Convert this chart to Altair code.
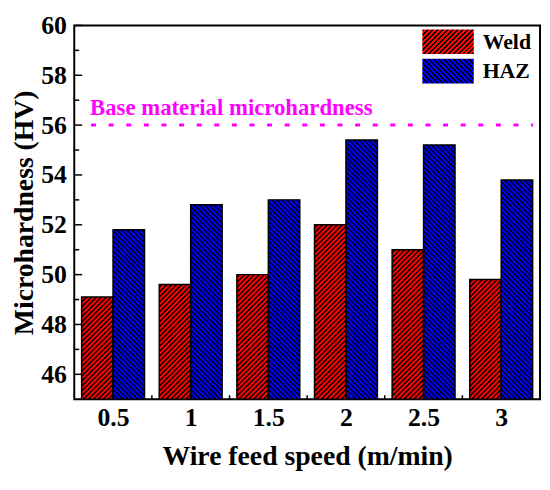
import math
import altair as alt
import pandas as pd

# ---- data ----
speeds = ["0.5", "1", "1.5", "2", "2.5", "3"]
weld = [49.1, 49.6, 50.0, 52.0, 51.0, 49.8]
haz = [51.8, 52.8, 53.0, 55.4, 55.2, 53.8]
series = ["Weld", "HAZ"]
colors = ["#FF0000", "#0000FF"]
y_major = [46, 48, 50, 52, 54, 56, 58, 60]
y_minor = [47, 49, 51, 53, 55, 57, 59]
base_value = [56]
base_label = "Base material microhardness"
x_title = "Wire feed speed (m/min)"
y_title = "Microhardness (HV)"

# ---- layout / style ----
W, H = 471, 378
Y0, Y1 = 45, 60
X0, X1 = -0.5, len(speeds) - 0.5
FONT = "Liberation Serif"
HALF = 0.405                # width of one bar, in category steps
VPER = 5.0                  # vertical hatch period, px
HATCH_W = 1.4
CLEAR = "rgba(0,0,0,0)"

px_x = W / (X1 - X0)        # px per x unit
px_y = H / (Y1 - Y0)        # px per y unit

rows = []
for si, (s, vals) in enumerate(zip(series, [weld, haz])):
    for i, (c, v) in enumerate(zip(speeds, vals)):
        left = i - HALF + si * HALF
        rows.append({"speed": c, "series": s, "value": v, "xa": left, "xb": left + HALF})
df = pd.DataFrame(rows)

yscale = alt.Scale(domain=[Y0, Y1], nice=False, zero=False)
xscale = alt.Scale(domain=[X0, X1], nice=False, zero=False)
label_expr = "[" + ",".join("'%s'" % s for s in speeds) + "][datum.value]"

x_axis = alt.Axis(values=list(range(len(speeds))), labelExpr=label_expr, labelAngle=0,
                  labelFont=FONT, labelFontSize=26, labelFontWeight="bold",
                  labelColor="black", labelPadding=6, ticks=False, domain=False,
                  titleFont=FONT, titleFontSize=28, titleFontWeight="bold",
                  titleColor="black", titlePadding=12, grid=False)
y_axis = alt.Axis(values=y_major, format="d", labelFont=FONT, labelFontSize=26,
                  labelFontWeight="bold", labelColor="black", labelPadding=8,
                  ticks=False, domain=False, titleFont=FONT, titleFontSize=28,
                  titleFontWeight="bold", titleColor="black", titlePadding=2, grid=False)


def X(field="xa"):
    return alt.X(f"{field}:Q", scale=xscale, axis=x_axis, title=x_title)


def Y(field="value"):
    return alt.Y(f"{field}:Q", scale=yscale, axis=y_axis, title=y_title)


base = alt.Chart(df).mark_rect().encode(
    x=X(), x2="xb", y=Y(), y2=alt.Y2(datum=Y0),
    fill=alt.Fill("series:N", scale=alt.Scale(domain=series, range=colors), legend=None),
)

# ---- hatch lines (45 degrees on screen), clipped to each bar ----
hl = []
for _, r in df.iterrows():
    w = (r["xb"] - r["xa"]) * px_x
    h = (r["value"] - Y0) * px_y
    forward = r["series"] == series[0]
    k = 1
    while True:
        if forward:               # y = x + c  (c from -w to h)
            c = -w + k * VPER
            if c >= h:
                break
            xa, xb = max(0.0, -c), min(w, h - c)
            ya, yb = xa + c, xb + c
        else:                     # y = -x + c (c from 0 to w + h)
            c = k * VPER
            if c >= w + h:
                break
            xa, xb = max(0.0, c - h), min(w, c)
            ya, yb = c - xa, c - xb
        hl.append({"x1": r["xa"] + xa / px_x, "x2": r["xa"] + xb / px_x,
                   "y1": Y0 + ya / px_y, "y2": Y0 + yb / px_y})
        k += 1
hl = pd.DataFrame(hl)
hatch_lines = alt.Chart(hl).mark_rule(color="black", strokeWidth=HATCH_W).encode(
    x=X("x1"), x2="x2", y=Y("y1"), y2="y2")

outline = alt.Chart(df).mark_rect(fill=CLEAR, stroke="black", strokeWidth=1.5).encode(
    x=X(), x2="xb", y=Y(), y2=alt.Y2(datum=Y0))

# ---- legends (one per series, hatched swatches) ----
SW_W, SW_H = 52, 25
PERIOD = VPER / math.sqrt(2)


def hatch(w, h, forward, dark, light):
    L = (w + h) / math.sqrt(2)
    per = PERIOD / L
    stops = []
    t = 0.0
    while t < 1:
        a = round(t, 6)
        b = round(min(t + 0.4 * per, 1), 6)
        cc = round(min(t + per, 1), 6)
        stops += [{"offset": a, "color": dark}, {"offset": b, "color": dark},
                  {"offset": b, "color": light}, {"offset": cc, "color": light}]
        t += per
    kk = (w + h) / (w * w + h * h)
    ax, by = w * kk, h * kk
    if forward:
        return {"gradient": "linear", "x1": 0, "y1": 0, "x2": ax, "y2": by, "stops": stops}
    return {"gradient": "linear", "x1": 0, "y1": 1, "x2": ax, "y2": 1 - by, "stops": stops}


swatch_path = "M-1,-%.3fH1V%.3fH-1Z" % (SW_H / SW_W, SW_H / SW_W)
legend_layers = []
for i, (s, col) in enumerate(zip(series, colors)):
    leg = alt.Legend(title=None, orient="none", legendX=351, legendY=2.5 + 29.7 * i,
                     symbolSize=SW_W * SW_W, symbolStrokeColor="black", symbolStrokeWidth=1.5,
                     symbolOpacity=1,
                     labelFont=FONT, labelFontSize=22, labelFontWeight="bold",
                     labelColor="black", labelOffset=8, clipHeight=28, padding=0)
    legend_layers.append(
        alt.Chart(df[df["series"] == s]).mark_point(
            opacity=0, filled=True, fill=hatch(SW_W, SW_H, i == 0, "black", col)
        ).encode(
            shape=alt.Shape("series:N", scale=alt.Scale(domain=[s], range=[swatch_path]),
                            legend=leg)
        )
    )

# ---- inward ticks ----
maj_df = pd.DataFrame({"value": y_major})
min_df = pd.DataFrame({"value": y_minor})
ticks_major = alt.Chart(maj_df).mark_rule(color="black", strokeWidth=1.5).encode(
    y=Y(), x=alt.value(0), x2=alt.value(8))
ticks_minor = alt.Chart(min_df).mark_rule(color="black", strokeWidth=1.5).encode(
    y=Y(), x=alt.value(0), x2=alt.value(5))
xt_df = pd.DataFrame({"xa": [i + 0.5 for i in range(len(speeds) - 1)]})
ticks_x = alt.Chart(xt_df).mark_rule(color="black", strokeWidth=1.5).encode(
    x=X(), y=alt.value(H), y2=alt.value(H - 4))

# ---- base material reference line ----
ref_df = pd.DataFrame({"value": base_value, "label": [base_label]})
ref_line = alt.Chart(ref_df).mark_rule(color="#FF00FF", strokeWidth=3, strokeDash=[5, 12.8]).encode(
    y=Y(), x=alt.value(17), x2=alt.value(464))
ref_text = alt.Chart(ref_df).mark_text(color="#FF00FF", font=FONT, fontSize=23, fontWeight="bold",
                                       align="left", baseline="alphabetic", dy=-10).encode(
    y=Y(), x=alt.value(16), text="label:N")

chart = alt.layer(base, hatch_lines, outline, ticks_major, ticks_minor, ticks_x,
                  ref_line, ref_text, *legend_layers).resolve_scale(
    shape="independent"
).properties(
    width=W, height=H, padding={"left": 3, "top": 2, "right": 2, "bottom": 2}
).configure_view(stroke="black", strokeWidth=2)

chart.save("out.html", embed_options={"renderer": "svg", "actions": False})
